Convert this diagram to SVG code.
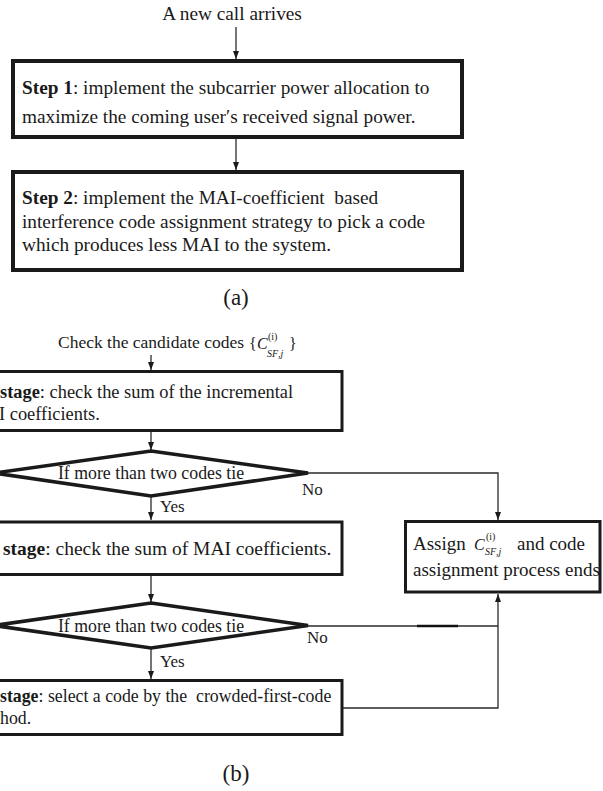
<svg xmlns="http://www.w3.org/2000/svg" width="603" height="791" viewBox="0 0 603 791">
  <style>
    text { font-family: "Liberation Serif", "Times New Roman", serif; fill: #1a1a1a; }
    .big { font-size: 19.3px; }
    .mid { font-size: 18px; }
    .cap { font-size: 23px; }
    .b { font-weight: bold; }
    .it { font-style: italic; }
    .box { fill: #ffffff; stroke: #1a1a1a; stroke-width: 3; }
    .boxA { fill: #ffffff; stroke: #1a1a1a; stroke-width: 4; }
    .dia { fill: #ffffff; stroke: #1a1a1a; stroke-width: 3.5; stroke-linejoin: miter; }
    .wire { fill: none; stroke: #2a2a2a; stroke-width: 1.3; }
    .arrow { fill: none; stroke: #2a2a2a; stroke-width: 1.3; marker-end: url(#head); }
    .mark { stroke: #111111; stroke-width: 2.4; }
  </style>
  <defs>
    <marker id="head" viewBox="0 0 8 6" refX="8" refY="3" markerWidth="8" markerHeight="6" markerUnits="userSpaceOnUse" orient="auto">
      <path d="M0,0 L8,3 L0,6 z" fill="#1a1a1a"/>
    </marker>
  </defs>

  <rect width="603" height="791" fill="#ffffff"/>

  <!-- connectors -->
  <g id="connectors">
    <!-- part (a) -->
    <line class="arrow" x1="236" y1="27" x2="236" y2="59"/>
    <line class="arrow" x1="236" y1="139" x2="236" y2="170"/>
    <!-- part (b) -->
    <line class="arrow" x1="151" y1="355" x2="151" y2="370"/>
    <line class="arrow" x1="151" y1="432" x2="151" y2="450"/>
    <line class="arrow" x1="151" y1="497" x2="151" y2="520"/>
    <line class="arrow" x1="151" y1="576" x2="151" y2="602"/>
    <line class="arrow" x1="151" y1="649" x2="151" y2="679"/>
    <polyline class="arrow" points="308,473 498,473 498,520"/>
    <line class="wire" x1="308" y1="626" x2="498" y2="626"/>
    <line class="mark" x1="417" y1="626" x2="458" y2="626"/>
    <polyline class="arrow" points="342,708 498,708 498,594"/>
  </g>

  <!-- part (a) -->
  <g id="start">
    <text class="big" x="232" y="20" text-anchor="middle">A new call arrives</text>
  </g>

  <g id="step1">
    <rect class="boxA" x="13" y="61" width="449" height="76"/>
    <text class="big" x="22" y="94"><tspan class="b">Step 1</tspan>: implement the subcarrier power allocation to</text>
    <text class="big" x="22" y="123">maximize the coming user′s received signal power.</text>
  </g>

  <g id="step2">
    <rect class="boxA" x="13" y="172" width="449" height="98"/>
    <text class="big" x="22" y="204" xml:space="preserve"><tspan class="b">Step 2</tspan>: implement the MAI-coefficient  based</text>
    <text class="big" x="22" y="228">interference code assignment strategy to pick a code</text>
    <text class="big" x="22" y="251">which produces less MAI to the system.</text>
  </g>

  <g id="label-a">
    <text class="cap" x="236" y="305" text-anchor="middle">(a)</text>
  </g>

  <!-- part (b) -->
  <g id="check">
    <text class="mid" x="58" y="348" style="font-size:17.5px">Check the candidate codes</text>
    <text x="249" y="349" style="font-size:16px">{</text>
    <text class="it" x="257" y="349" style="font-size:16px">C</text>
    <text x="268" y="340" style="font-size:10px">(i)</text>
    <text x="267" y="357" style="font-size:10px"><tspan class="it">SF</tspan>,<tspan class="it">j</tspan></text>
    <text x="289" y="349" style="font-size:16px">}</text>
  </g>

  <g id="stage1">
    <rect class="box" x="-10" y="371.5" width="352" height="59"/>
    <text class="mid" x="0" y="398" style="font-size:18.4px"><tspan class="b">stage</tspan>: check the sum of the incremental</text>
    <text class="mid" x="-1" y="420" style="font-size:18.4px">I coefficients.</text>
  </g>

  <g id="tie1">
    <polygon class="dia" points="151,451 308,473 151,496 -6,473"/>
    <text class="mid" x="151" y="479" text-anchor="middle" style="font-size:17.8px">If more than two codes tie</text>
    <text class="mid" x="302" y="495" style="font-size:17px">No</text>
    <text class="mid" x="160" y="512" style="font-size:17px">Yes</text>
  </g>

  <g id="stage2">
    <rect class="box" x="-10" y="522" width="352" height="52.5"/>
    <text class="mid" x="3" y="555" style="font-size:19.5px"><tspan class="b">stage</tspan>: check the sum of MAI coefficients.</text>
  </g>

  <g id="tie2">
    <polygon class="dia" points="151,603 308,625.5 151,648 -6,625.5"/>
    <text class="mid" x="151" y="632" text-anchor="middle" style="font-size:17.8px">If more than two codes tie</text>
    <text class="mid" x="307" y="643" style="font-size:17px">No</text>
    <text class="mid" x="160" y="667" style="font-size:17px">Yes</text>
  </g>

  <g id="stage3">
    <rect class="box" x="-10" y="680.5" width="352" height="54"/>
    <text class="mid" x="0" y="702" style="font-size:17.8px" xml:space="preserve"><tspan class="b">stage</tspan>: select a code by the  crowded-first-code</text>
    <text class="mid" x="0" y="724" style="font-size:17.8px">hod.</text>
  </g>

  <g id="assign">
    <rect class="box" x="405.5" y="521.5" width="194.5" height="70.5"/>
    <text x="413" y="550" style="font-size:19px">Assign</text>
    <text class="it" x="474" y="550" style="font-size:16px">C</text>
    <text x="486" y="540" style="font-size:10px">(i)</text>
    <text x="485" y="555" style="font-size:10px"><tspan class="it">SF</tspan>,<tspan class="it">j</tspan></text>
    <text x="517" y="550" style="font-size:19px">and code</text>
    <text x="413" y="576" style="font-size:19px">assignment process ends</text>
  </g>

  <g id="label-b">
    <text class="cap" x="236" y="781" text-anchor="middle">(b)</text>
  </g>
</svg>
